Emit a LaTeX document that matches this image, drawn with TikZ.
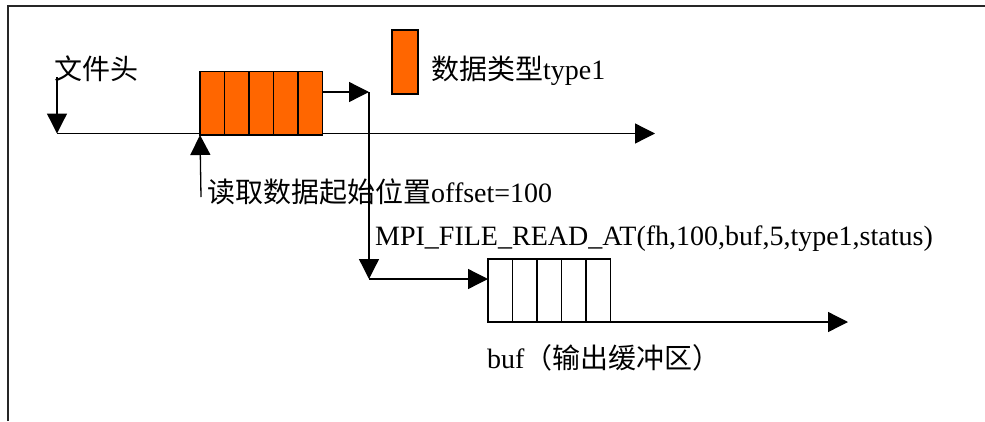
\documentclass[tikz,border=0pt]{standalone}
\usepackage{fontspec}
\setmainfont{Liberation Serif}
\newfontfamily\cjk{Noto Sans CJK SC}
\usetikzlibrary{arrows.meta}
\definecolor{blockorange}{RGB}{255,102,0}
\begin{document}
\begin{tikzpicture}[x=1pt,y=-1pt,
  lbl/.style={font=\fontsize{28}{34}\selectfont, inner sep=0pt, anchor=base west},
  cellO/.style={draw=black, line width=1.4pt, minimum width=24.5pt, minimum height=63.5pt, inner sep=0pt, outer sep=0pt, anchor=north west},
  cellW/.style={draw=black, line width=1.4pt, minimum width=24.5pt, minimum height=63pt, inner sep=0pt, outer sep=0pt, anchor=north west},
  conn/.style={draw=black, line width=1.3pt},
  arr/.style={conn, -{Triangle[length=20pt,width=20pt]}}]
\useasboundingbox (0,0) rectangle (985,421);
% frame
\draw[line width=2pt, black!85] (8,421) -- (8,5.5) -- (985,5.5);

% labels
\node[lbl] (head) at (54,79) {\cjk 文件头};
\node[lbl] (start) at (207,202) {{\cjk 读取数据起始位置}offset=100};
\node[lbl] (call) at (375,245) {MPI\_FILE\_READ\_AT(fh,100,buf,5,type1,status)};
\node[lbl] (buflbl) at (487,368) {buf{\cjk （输出缓冲区）}};
\node[lbl] (typelbl) at (431,79) {{\cjk 数据类型}type1};

% legend block
\node[draw=black, fill=blockorange, line width=1.4pt, minimum width=26pt, minimum height=64pt, inner sep=0pt, outer sep=0pt, anchor=north west] (legend) at (392,30) {};

% coordinates
\coordinate (hs) at (57,77);
\coordinate (a0) at (57,133.5);
\coordinate (a1) at (655,133.5);
\coordinate (t) at (369,92);
\coordinate (u) at (369,279);
\coordinate (p) at (201,197);
\coordinate (e) at (848,322);

% main axis
\draw[arr] (a0) -- (a1);
\draw[arr] (hs) -- (a0);

% orange file block
\fill[blockorange] (200,71.5) rectangle (322.5,135);
\node[cellO] (c1) at (200,71.5) {};
\node[cellO] (c2) at (c1.north east) {};
\node[cellO] (c3) at (c2.north east) {};
\node[cellO] (c4) at (c3.north east) {};
\node[cellO] (c5) at (c4.north east) {};

% buffer block
\fill[white] (488,259) rectangle (610.5,322);
\node[cellW] (d1) at (488,259) {};
\node[cellW] (d2) at (d1.north east) {};
\node[cellW] (d3) at (d2.north east) {};
\node[cellW] (d4) at (d3.north east) {};
\node[cellW] (d5) at (d4.north east) {};

% connectors
\draw[arr] (p) -- (c1.south west);
\draw[arr] (t -| c5.east) -- (t);
\draw[arr] (t) -- (u);
\draw[arr] (u) -- (u -| d1.west);
\draw[arr] (d5.south east) -- (e);
\end{tikzpicture}
\end{document}
